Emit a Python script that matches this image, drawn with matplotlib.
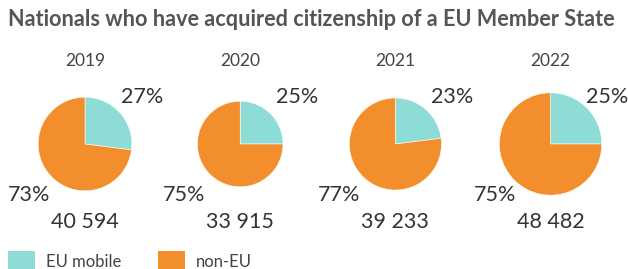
import numpy as np
import matplotlib.pyplot as plt
from matplotlib.patches import Patch

years = ["2019", "2020", "2021", "2022"]
totals = [40594, 33915, 39233, 48482]
eu_mobile_pct = [27, 25, 23, 25]
non_eu_pct = [73, 75, 77, 75]
legend_labels = ["EU mobile", "non-EU"]

teal = "#8EDCD6"
orange = "#F28E2B"
W, H = 628, 269

plt.rcParams["font.family"] = ["Lato", "DejaVu Sans"]

fig = plt.figure(figsize=(W / 100, H / 100), dpi=100)
ax = fig.add_axes([0, 0, 1, 1])

# pie area proportional to the total
k = 0.2325
col_x = 85 + 155.2 * np.arange(len(years))
pie_y = H - 144

for i, yr in enumerate(years):
    cx = col_x[i]
    r = k * np.sqrt(totals[i])
    ax.pie([eu_mobile_pct[i], non_eu_pct[i]], colors=[teal, orange],
           startangle=90, counterclock=False, center=(cx, pie_y), radius=r,
           wedgeprops=dict(linewidth=0.4, edgecolor="white"), frame=True)
    ax.text(cx, H - 61, yr, ha="center", va="center", fontsize=12.5, color="#444444")
    ax.text(cx + 57, H - 97, f"{eu_mobile_pct[i]}%", ha="center", va="center",
            fontsize=15.5, color="#333333")
    ax.text(cx - 56, H - 195, f"{non_eu_pct[i]}%", ha="center", va="center",
            fontsize=15.5, color="#333333")
    ax.text(cx, H - 222, f"{totals[i]:,}".replace(",", " "), ha="center", va="center",
            fontsize=15.5, color="#333333")

ax.set_xlim(0, W)
ax.set_ylim(0, H)
ax.set_aspect("equal")
ax.axis("off")

fig.text(8 / W, 1 - 19 / H, "Nationals who have acquired citizenship of a EU Member State",
         ha="left", va="center", fontsize=15.6, fontweight="bold", color="#555555")

handles = [Patch(facecolor=teal), Patch(facecolor=orange)]
fig.legend(handles, legend_labels, loc="lower left", bbox_to_anchor=(0.004, -0.03),
           ncol=2, frameon=False, fontsize=12, handlelength=1.65, handleheight=1.55,
           handletextpad=0.65, columnspacing=2.2, borderaxespad=0, borderpad=0.3,
           labelcolor="#444444")

fig.savefig("out.png", dpi=100)
